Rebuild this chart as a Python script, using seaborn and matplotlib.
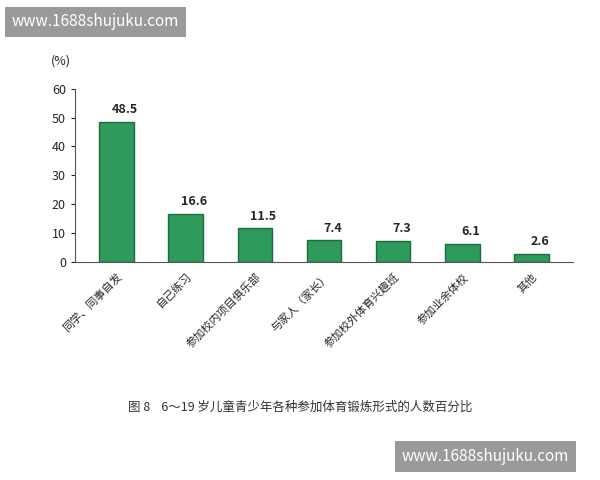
import matplotlib.pyplot as plt
import seaborn as sns
import pandas as pd

categories = ["同学、同事自发", "自己练习", "参加校内项目俱乐部", "与家人（家长）",
              "参加校外体育兴趣班", "参加业余体校", "其他"]
values = [48.5, 16.6, 11.5, 7.4, 7.3, 6.1, 2.6]
df = pd.DataFrame({"cat": categories, "val": values})

sns.set_style("white")
plt.rcParams['font.family'] = ['Noto Sans CJK SC', 'DejaVu Sans']

fig = plt.figure(figsize=(6, 4.8), dpi=100)
ax = fig.add_axes([0.125, 0.455, 0.83, 0.36])
sns.barplot(data=df, x="cat", y="val", color="#2e9a5c", edgecolor="#1d6b3e",
            width=0.5, ax=ax, saturation=1)
for i, v in enumerate(values):
    ax.text(i + 0.12, v + 2, f"{v}", ha="center", va="bottom", fontsize=9,
            fontweight="bold")
ax.set_ylim(0, 60)
ax.set_yticks(range(0, 61, 10))
ax.set_xlim(-0.6, 6.6)
ax.set_xlabel("")
ax.set_ylabel("")
ax.tick_params(axis="y", labelsize=9, length=3, left=True)
ax.set_xticks(range(len(categories)))
ax.set_xticklabels(categories, rotation=45, ha="right", fontsize=8,
                   rotation_mode="anchor")
for s in ["top", "right"]:
    ax.spines[s].set_visible(False)
ax.spines["left"].set_color("#555555")
ax.spines["bottom"].set_color("#555555")
fig.text(0.085, 0.865, "(%)", fontsize=9)
fig.text(0.5, 0.145, "图 8    6～19 岁儿童青少年各种参加体育锻炼形式的人数百分比",
         ha="center", fontsize=9, color="#333333")
fig.text(0.02, 0.945, "www.1688shujuku.com", fontsize=11, color="white",
         bbox=dict(facecolor="#9a9a9a", edgecolor="none", pad=5))
fig.text(0.67, 0.04, "www.1688shujuku.com", fontsize=11, color="white",
         bbox=dict(facecolor="#9a9a9a", edgecolor="none", pad=5))
fig.savefig("out.png", dpi=100)
